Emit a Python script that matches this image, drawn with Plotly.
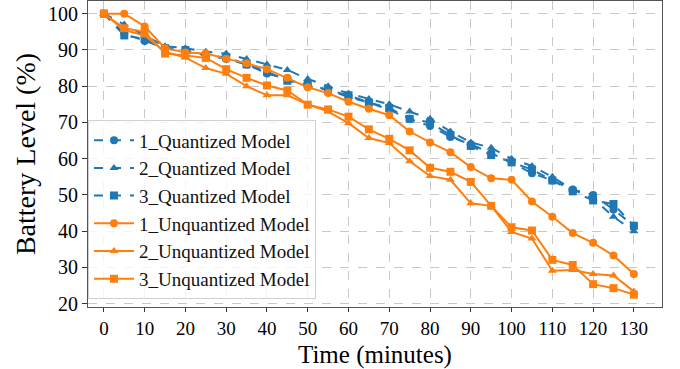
import plotly.graph_objects as go

time_min = [0, 5, 10, 15, 20, 25, 30, 35, 40, 45, 50, 55, 60, 65, 70, 75, 80, 85, 90, 95, 100, 105, 110, 115, 120, 125, 130]

q1 = [100, 94.5, 92.5, 90.5, 89.5, 88.5, 87.5, 86, 83.5, 82, 80, 79, 77, 75.5, 73.5, 71, 69, 66, 64, 61.5, 59, 56, 54, 51.5, 50, 46, 41.5]
q2 = [100, 97, 94, 91, 90.5, 89.5, 89, 87.5, 86, 84.5, 82, 80, 78, 76.5, 75, 73, 71, 67.5, 64.5, 63, 60, 58, 55, 51.5, 49, 44, 40]
q3 = [100, 94, 93, 90.5, 90, 88.5, 88, 86, 84, 81.5, 80.5, 79, 77.5, 75.5, 74, 71, 70, 66.5, 63.5, 61, 59, 57, 54, 51, 48.5, 47.5, 41.5]

u1 = [100, 100, 96.5, 90.5, 89.3, 89, 87.6, 86.3, 84.7, 82.3, 79.7, 78.1, 75.7, 73.8, 72, 67.5, 64.5, 61.8, 57.7, 54.6, 54.2, 48.2, 44, 39.5, 36.8, 33.3, 28.2]
u2 = [100, 95.5, 94, 89.5, 87.9, 85, 83.4, 80, 77.5, 77.5, 75, 73, 69.8, 65.7, 64.3, 59.3, 55.2, 54.2, 47.7, 47, 39.8, 38, 29.1, 29.3, 28.2, 27.8, 23.4]
u3 = [100, 96, 95, 89, 88.5, 87.8, 84.7, 82.3, 80.2, 78.8, 74.9, 73.6, 71.6, 68.1, 65.5, 62.3, 57.5, 56.4, 53.6, 47, 41.1, 40.2, 32.1, 30.7, 25.4, 24.3, 22.5]

series = [
    ("1_Quantized Model", q1, "#1f77b4", "dash", "circle"),
    ("2_Quantized Model", q2, "#1f77b4", "dash", "triangle-up"),
    ("3_Quantized Model", q3, "#1f77b4", "dash", "square"),
    ("1_Unquantized Model", u1, "#ff7f0e", "solid", "circle"),
    ("2_Unquantized Model", u2, "#ff7f0e", "solid", "triangle-up"),
    ("3_Unquantized Model", u3, "#ff7f0e", "solid", "square"),
]

x_ticks = list(range(0, 131, 10))
y_ticks = list(range(20, 101, 10))

fig = go.Figure()
for name, vals, color, dash, sym in series:
    fig.add_trace(go.Scatter(
        x=time_min, y=vals, name=name, mode="lines+markers",
        line=dict(color=color, width=2, dash=dash),
        marker=dict(symbol=sym, size=8, color=color),
    ))

font_family = "Liberation Serif, Times New Roman, serif"
fig.update_layout(
    width=680, height=369,
    margin=dict(l=88, r=18, t=1, b=62),
    paper_bgcolor="white", plot_bgcolor="white",
    font=dict(family=font_family, color="black"),
    showlegend=True,
    legend=dict(
        x=0.0, y=0.025, xanchor="left", yanchor="bottom",
        bgcolor="rgba(255,255,255,0.8)", bordercolor="#d0d0d0", borderwidth=1,
        font=dict(family=font_family, size=19, color="#111"),
        tracegroupgap=0, itemwidth=40,
    ),
    annotations=[dict(
        text="Time (minutes)", xref="paper", yref="paper", x=0.5, y=-0.105,
        xanchor="center", yanchor="top", showarrow=False,
        font=dict(family=font_family, size=25, color="black"),
    )],
)
fig.update_xaxes(
    range=[-3.9, 136.9], tickvals=x_ticks, ticks="outside", ticklen=4,
    tickcolor="#333", tickfont=dict(size=19), ticklabelstandoff=0,
    showgrid=True, gridcolor="#c8c8c8", griddash="dash", gridwidth=1,
    showline=True, linecolor="#555", linewidth=1.2, mirror=True, zeroline=False,
)
fig.update_yaxes(
    range=[19.1, 103.5], tickvals=y_ticks, ticks="outside", ticklen=5,
    tickcolor="#333", tickfont=dict(size=20),
    showgrid=True, gridcolor="#c8c8c8", griddash="dash", gridwidth=1,
    showline=True, linecolor="#555", linewidth=1.2, mirror=True, zeroline=False,
    title=dict(text="Battery Level (%)", font=dict(size=28), standoff=4),
)

fig.write_html("out.html")
